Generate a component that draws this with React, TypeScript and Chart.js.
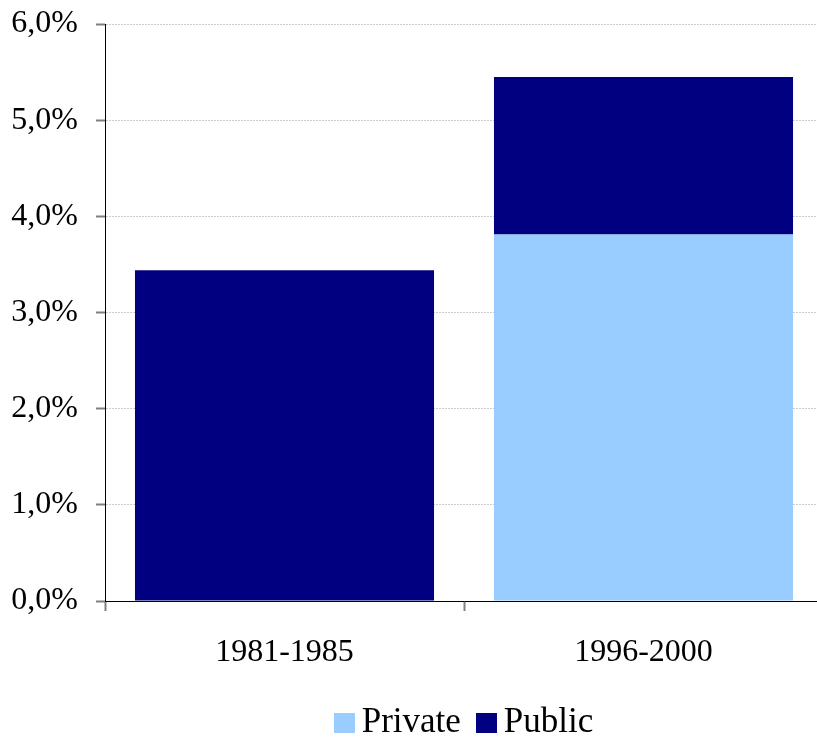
import React, { useEffect, useRef } from "react";
import { Chart, registerables } from "chart.js";

Chart.register(...registerables);

const categories = ["1981-1985", "1996-2000"];
const privateValues = [0, 3.81];
const publicValues = [3.44, 1.64];
const yTicks = [0, 1, 2, 3, 4, 5, 6];

const PRIVATE_COLOR = "#99CCFF";
const PUBLIC_COLOR = "#000080";
const FONT = "'Liberation Serif', 'Times New Roman', serif";

export default function App() {
  const ref = useRef<HTMLCanvasElement | null>(null);

  useEffect(() => {
    if (!ref.current) return;
    const chart = new Chart(ref.current, {
      type: "bar",
      data: {
        labels: categories,
        datasets: [
          {
            label: "Private",
            data: privateValues,
            backgroundColor: PRIVATE_COLOR,
            borderWidth: 0,
            categoryPercentage: 1,
            barPercentage: 0.833,
          },
          {
            label: "Public",
            data: publicValues,
            backgroundColor: PUBLIC_COLOR,
            borderWidth: 0,
            categoryPercentage: 1,
            barPercentage: 0.833,
          },
        ],
      },
      options: {
        responsive: false,
        animation: false,
        devicePixelRatio: 1,
        layout: { padding: { left: 0, right: 7, top: 24, bottom: 0 } },
        plugins: {
          legend: { display: false },
          tooltip: { enabled: false },
        },
        scales: {
          x: {
            stacked: true,
            grid: {
              offset: true,
              drawOnChartArea: false,
              drawTicks: true,
              tickLength: 10,
              tickColor: "#808080",
              tickWidth: 2,
            },
            border: { display: true, color: "#000000", width: 1 },
            ticks: {
              color: "#000000",
              padding: 22,
              font: { family: FONT, size: 32 },
            },
            afterFit: (scale: any) => {
              scale.height = 136;
              scale.paddingLeft = 0;
              scale.paddingRight = 0;
            },
          },
          y: {
            stacked: true,
            min: 0,
            max: 6,
            afterBuildTicks: (scale: any) => {
              scale.ticks = yTicks.map((v) => ({ value: v }));
            },
            grid: {
              color: "#cccccc",
              lineWidth: 1,
              tickLength: 9,
              tickColor: "#808080",
              tickWidth: 2,
            },
            border: { display: true, color: "#000000", width: 1, dash: [2, 1] },
            ticks: {
              color: "#000000",
              padding: 18,
              font: { family: FONT, size: 32 },
              callback: (v: any) => Number(v).toFixed(1).replace(".", ",") + "%",
            },
            afterFit: (scale: any) => {
              scale.width = 105;
              scale.paddingTop = 0;
              scale.paddingBottom = 0;
            },
          },
        },
      },
    });
    return () => chart.destroy();
  }, []);

  const legendItem = (color: string, text: string) => (
    <div style={{ display: "flex", alignItems: "center" }}>
      <span
        style={{
          display: "inline-block",
          width: 21,
          height: 20,
          background: color,
          marginRight: 7,
          marginTop: 4,
        }}
      />
      <span style={{ fontFamily: FONT, fontSize: 35, lineHeight: "34px", color: "#000" }}>{text}</span>
    </div>
  );

  return (
    <div
      style={{
        position: "fixed",
        left: 0,
        top: 0,
        width: 817,
        height: 737,
        overflow: "hidden",
        background: "#ffffff",
      }}
    >
      <canvas ref={ref} width={830} height={737} style={{ display: "block" }} />
      <div
        style={{
          position: "absolute",
          left: 0,
          top: 704,
          width: 927,
          display: "flex",
          justifyContent: "center",
          gap: 15,
        }}
      >
        {legendItem(PRIVATE_COLOR, "Private")}
        {legendItem(PUBLIC_COLOR, "Public")}
      </div>
    </div>
  );
}
